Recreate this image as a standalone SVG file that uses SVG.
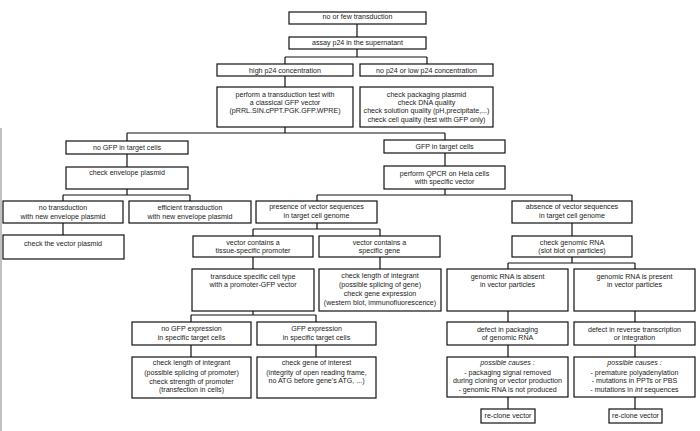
<svg xmlns="http://www.w3.org/2000/svg" width="700" height="431" viewBox="0 0 700 431">
<style>
rect.b{fill:#fff;stroke:#111;stroke-width:1.2}
text{font-family:"Liberation Sans",Arial,sans-serif;font-size:7.1px;fill:#1a1a1a;text-anchor:middle}
.i{font-style:italic}
#connectors path{fill:none;stroke:#111;stroke-width:1.2}
</style>
<rect width="700" height="431" fill="#fff"/>
<line x1="1" y1="128" x2="1" y2="431" stroke="#666" stroke-width="0.8"/>
<g id="connectors">
<path d="M357 24V37"/>
<path d="M357 49V57M285 57H427M285 57V64M427 57V64"/>
<path d="M285 76V87"/>
<path d="M285 127V133M127 133H445M127 133V141M445 133V140"/>
<path d="M127 154V167"/>
<path d="M127 189V195M63 195H190M63 195V201M190 195V201"/>
<path d="M63 223V235"/>
<path d="M445 153V166"/>
<path d="M445 189V195M317 195H572M317 195V201M572 195V201"/>
<path d="M317 223V229M253 229H380M253 229V236M380 229V236"/>
<path d="M572 223V236"/>
<path d="M253 257V269"/>
<path d="M380 257V269"/>
<path d="M572 257V263M508 263H635M508 263V269M635 263V269"/>
<path d="M253 311V315M191 315H316M191 315V322M316 315V322"/>
<path d="M191 345V357"/>
<path d="M316 345V357"/>
<path d="M508 311V322M508 345V357M508 397V409"/>
<path d="M635 311V322M635 345V357M635 397V409"/>
</g>
<g id="n1"><rect class="b" x="289" y="12" width="137" height="12"/><text x="357.5" y="18.7">no or few transduction</text></g>
<g id="n2"><rect class="b" x="289" y="37" width="137" height="12"/><text x="357.5" y="45">assay p24 in the supernatant</text></g>
<g id="n3"><rect class="b" x="217" y="64" width="136" height="12"/><text x="285" y="72.5">high p24 concentration</text></g>
<g id="n4"><rect class="b" x="360" y="64" width="133" height="12"/><text x="426.5" y="72.5">no p24 or low p24 concentration</text></g>
<g id="n5"><rect class="b" x="217" y="87" width="136" height="40"/><text x="285" y="96.8">perform a transduction test with</text><text x="285" y="104.8">a classical GFP vector</text><text x="285" y="113.2">(pRRL.SIN.cPPT.PGK.GFP.WPRE)</text></g>
<g id="n6"><rect class="b" x="360" y="87" width="133" height="40"/><text x="426.5" y="96.8">check packaging plasmid</text><text x="426.5" y="104.8">check DNA quality</text><text x="426.5" y="113.2">check solution quality (pH,precipitate,...)</text><text x="426.5" y="121.5">check cell quality (test with GFP only)</text></g>
<g id="n7"><rect class="b" x="66" y="141" width="122" height="13"/><text x="127" y="150">no GFP in target cells</text></g>
<g id="n8"><rect class="b" x="66" y="167" width="122" height="22"/><text x="127" y="175">check envelope plasmid</text></g>
<g id="n9"><rect class="b" x="3" y="201" width="120" height="22"/><text x="63" y="209.8">no transduction</text><text x="63" y="218.5">with new envelope plasmid</text></g>
<g id="n10"><rect class="b" x="129" y="201" width="122" height="22"/><text x="190" y="209.8">efficient transduction</text><text x="190" y="218.5">with new envelope plasmid</text></g>
<g id="n11"><rect class="b" x="3" y="235" width="121" height="24"/><text x="63" y="245.5">check the vector plasmid</text></g>
<g id="n12"><rect class="b" x="384" y="140" width="121" height="13"/><text x="444.5" y="149.2">GFP in target cells</text></g>
<g id="n13"><rect class="b" x="384" y="166" width="121" height="23"/><text x="444.5" y="175.8">perform QPCR on Hela cells</text><text x="444.5" y="184.2">with specific vector</text></g>
<g id="n14"><rect class="b" x="256" y="201" width="121" height="22"/><text x="316.5" y="208.8">presence of vector sequences</text><text x="316.5" y="217.5">in target cell genome</text></g>
<g id="n15"><rect class="b" x="512" y="201" width="120" height="22"/><text x="572" y="209.2">absence of vector sequences</text><text x="572" y="217.5">in target cell genome</text></g>
<g id="n16"><rect class="b" x="193" y="236" width="120" height="21"/><text x="253" y="244.8">vector contains a</text><text x="253" y="253.2">tissue-specific promoter</text></g>
<g id="n17"><rect class="b" x="319" y="236" width="121" height="21"/><text x="379.5" y="244.8">vector contains a</text><text x="379.5" y="253.2">specific gene</text></g>
<g id="n18"><rect class="b" x="512" y="236" width="120" height="21"/><text x="572" y="245">check genomic RNA</text><text x="572" y="253.2">(slot blot on particles)</text></g>
<g id="n19"><rect class="b" x="192" y="269" width="122" height="42"/><text x="253" y="278.5">transduce specific cell type</text><text x="253" y="286.8">with a promoter-GFP vector</text></g>
<g id="n20"><rect class="b" x="319" y="269" width="122" height="42"/><text x="380" y="277.5">check length of integrant</text><text x="380" y="286.5">(possible splicing of gene)</text><text x="380" y="295.8">check gene expression</text><text x="380" y="304.8">(western blot, immunofluorescence)</text></g>
<g id="n21"><rect class="b" x="447" y="269" width="121" height="42"/><text x="507.5" y="278.5">genomic RNA is absent</text><text x="507.5" y="286.8">in vector particles</text></g>
<g id="n22"><rect class="b" x="574" y="269" width="121" height="42"/><text x="634.5" y="278.5">genomic RNA is present</text><text x="634.5" y="286.8">in vector particles</text></g>
<g id="n23"><rect class="b" x="132" y="322" width="119" height="23"/><text x="191.5" y="331.2">no GFP expression</text><text x="191.5" y="339.8">in specific target cells</text></g>
<g id="n24"><rect class="b" x="257" y="322" width="119" height="23"/><text x="316.5" y="331.2">GFP expression</text><text x="316.5" y="339.8">in specific target cells</text></g>
<g id="n25"><rect class="b" x="132" y="357" width="119" height="41"/><text x="191.5" y="365.2">check length of integrant</text><text x="191.5" y="375.2">(possible splicing of promoter)</text><text x="191.5" y="383.5">check strength of promoter</text><text x="191.5" y="391.8">(transfection in cells)</text></g>
<g id="n26"><rect class="b" x="257" y="357" width="119" height="41"/><text x="316.5" y="364.8">check gene of interest</text><text x="316.5" y="374.5">(integrity of open reading frame,</text><text x="316.5" y="383.2">no ATG before gene's ATG, ...)</text></g>
<g id="n27"><rect class="b" x="447" y="322" width="121" height="23"/><text x="507.5" y="331.5">defect in packaging</text><text x="507.5" y="339.8">of genomic RNA</text></g>
<g id="n28"><rect class="b" x="447" y="357" width="121" height="40"/><text class="i" x="507.5" y="364.8">possible causes :</text><text x="507.5" y="374.8">- packaging signal removed</text><text x="507.5" y="383.2">during cloning or vector production</text><text x="507.5" y="391.5">- genomic RNA is not produced</text></g>
<g id="n29"><rect class="b" x="574" y="322" width="121" height="23"/><text x="634.5" y="331.5">defect in reverse transcription</text><text x="634.5" y="339.8">or integration</text></g>
<g id="n30"><rect class="b" x="574" y="357" width="121" height="40"/><text class="i" x="634.5" y="364.8">possible causes :</text><text x="634.5" y="374.8">- premature polyadenylation</text><text x="634.5" y="383.2">- mutations in PPTs or PBS</text><text x="634.5" y="391.5">- mutations in <tspan class="i">int</tspan> sequences</text></g>
<g id="n31"><rect class="b" x="481" y="409" width="54" height="14"/><text x="508" y="417.8">re-clone vector</text></g>
<g id="n32"><rect class="b" x="609" y="409" width="53" height="14"/><text x="635.5" y="417.8">re-clone vector</text></g>
</svg>
